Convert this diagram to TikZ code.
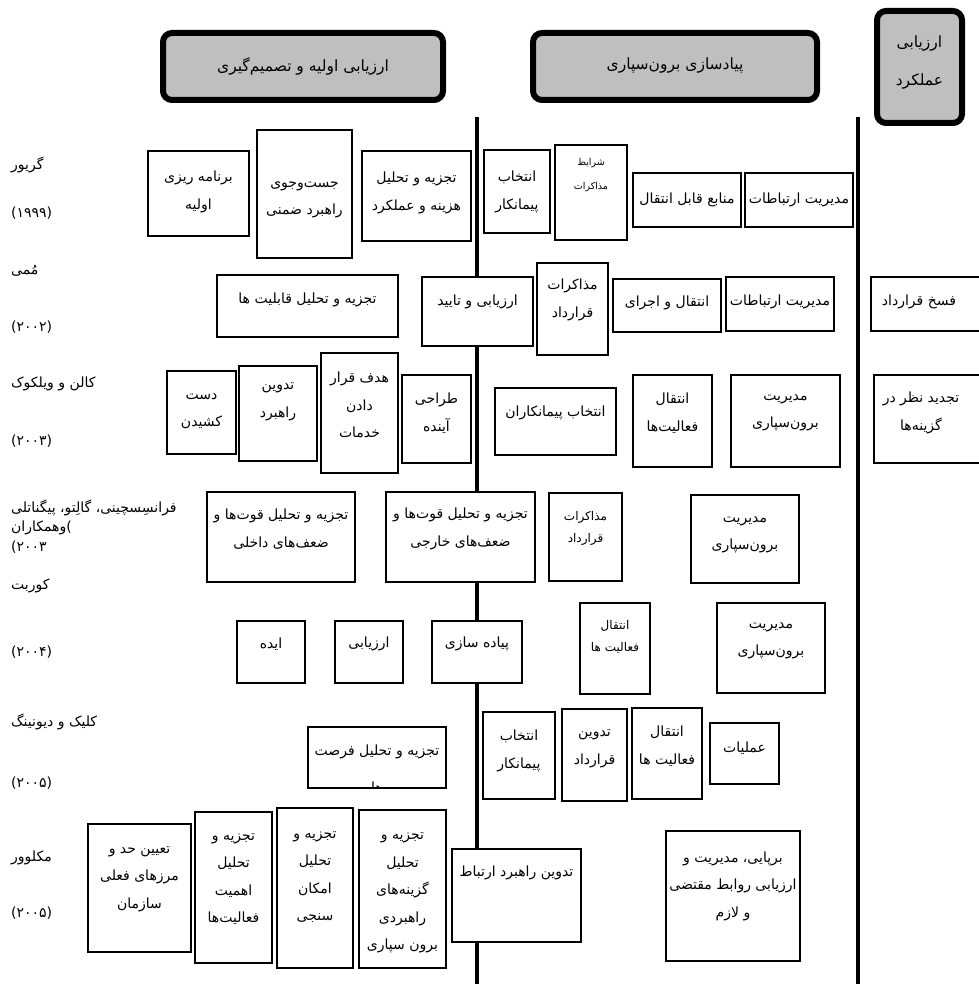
\documentclass[tikz,border=0pt]{standalone}
\usepackage{fontspec}
\usepackage{tikz}
\newfontfamily\arabicfont[Script=Arabic]{DejaVu Sans}
\newfontfamily\latinfont{DejaVu Sans}
\TeXXeTstate=1
\definecolor{headcolor}{RGB}{191,191,191}
\newcommand{\fa}[1]{\beginR#1\endR}
\newcommand{\lp}{{\latinfont(}}
\newcommand{\rp}{{\latinfont)}}

\begin{document}
\begin{tikzpicture}[
    x=1pt, y=-1pt,
    phase/.style={draw, line width=6pt, fill=headcolor, rounded corners=9pt, inner sep=0pt},
    box/.style={draw, line width=2.6pt, fill=white, inner sep=0pt},
    head/.style={inner sep=0pt, align=center, font=\arabicfont\fontsize{15.5}{27.5}\selectfont},
    txt/.style={inner sep=0pt, align=center, font=\arabicfont\fontsize{14}{27.5}\selectfont},
    small/.style={inner sep=0pt, align=center, font=\arabicfont\fontsize{12}{22}\selectfont},
    tiny/.style={inner sep=0pt, align=center, font=\arabicfont\fontsize{9.5}{24}\selectfont},
    who/.style={anchor=west, inner sep=0pt, font=\arabicfont\fontsize{14}{16}\selectfont},
    divider/.style={line width=4.5pt}
]
    \useasboundingbox (0,0) rectangle (978,984);

    % Phases
    \node[phase, minimum width=280pt, minimum height=67pt] (eval) at (303,66.5) {};
    \node[head] (eval-t) at (303,66) {\fa{ارزیابی اولیه و تصمیم‌گیری}};
    \node[phase, minimum width=284pt, minimum height=67pt] (impl) at (675,66.5) {};
    \node[head] (impl-t) at (675,66) {\fa{پیادسازی برون‌سپاری}};
    \node[phase, minimum width=85pt, minimum height=112pt] (perf) at (919.5,67) {};
    \node[head] (perf-t) at (919.5,62.5) {\fa{ارزیابی}\\[11pt]\fa{عملکرد}};

    % Phase borders
    \coordinate (d1-top) at (477,117);
    \coordinate (d1-bot) at (477,990);
    \coordinate (d2-top) at (858,117);
    \coordinate (d2-bot) at (858,990);
    \draw[divider] (d1-top) -- (d1-bot);
    \draw[divider] (d2-top) -- (d2-bot);

    % Authors
    \node[who] (gr-a) at (11,165) {\fa{گریور}};
    \node[who] (gr-y) at (11,213) {\lp۱۹۹۹\rp};
    \node[who] (mo-a) at (11,271) {\fa{مُمی}};
    \node[who] (mo-y) at (11,327) {\lp۲۰۰۲\rp};
    \node[who] (ca-a) at (11,384) {\fa{کالن و ویلکوک}};
    \node[who] (ca-y) at (11,441) {\lp۲۰۰۳\rp};
    \node[who] (fr-a) at (11,508) {\fa{فرانسِسچینی، گالِتو، پیگناتلی}};
    \node[who] (fr-b) at (11,528) {\fa{وهمکاران}\lp};
    \node[who] (fr-y) at (11,547) {\lp۲۰۰۳};
    \node[who] (co-a) at (11,586) {\fa{کوربت}};
    \node[who] (co-y) at (11,652) {\lp۲۰۰۴\rp};
    \node[who] (cl-a) at (11,722) {\fa{کلیک و دیونینگ}};
    \node[who] (cl-y) at (11,783) {\lp۲۰۰۵\rp};
    \node[who] (mc-a) at (11,858) {\fa{مکلوور}};
    \node[who] (mc-y) at (11,913) {\lp۲۰۰۵\rp};

    % Greaver
    \node[box, minimum width=101pt, minimum height=85pt] (gr-plan) at (198.5,193.5) {};
    \node[txt] (gr-plan-t) at (198.5,192) {\fa{برنامه ریزی}\\\fa{اولیه}};
    \node[box, minimum width=95pt, minimum height=128pt] (gr-search) at (304.5,194) {};
    \node[txt] (gr-search-t) at (304.5,200) {\fa{جست‌وجوی}\\\fa{راهبرد ضمنی}};
    \node[box, minimum width=109pt, minimum height=90pt] (gr-cost) at (416.5,196) {};
    \node[txt] (gr-cost-t) at (416.5,193) {\fa{تجزیه و تحلیل}\\\fa{هزینه و عملکرد}};
    \node[box, minimum width=66pt, minimum height=83pt] (gr-select) at (517,191.5) {};
    \node[txt] (gr-select-t) at (517,192) {\fa{انتخاب}\\\fa{پیمانکار}};
    \node[box, minimum width=72pt, minimum height=95pt] (gr-terms) at (591,192.5) {};
    \node[tiny] (gr-terms-t) at (591,175) {\fa{شرایط}\\\fa{مذاکرات}};
    \node[box, minimum width=108pt, minimum height=54pt] (gr-res) at (687,200) {};
    \node[txt] (gr-res-t) at (687,200) {\fa{منابع قابل انتقال}};
    \node[box, minimum width=108pt, minimum height=54pt] (gr-rel) at (799,200) {};
    \node[txt] (gr-rel-t) at (799,200) {\fa{مدیریت ارتباطات}};

    % Mommy
    \node[box, minimum width=181pt, minimum height=62pt] (mo-cap) at (307.5,306) {};
    \node[txt] (mo-cap-t) at (307.5,300) {\fa{تجزیه و تحلیل قابلیت ها}};
    \node[box, minimum width=111pt, minimum height=69pt] (mo-eval) at (477.5,311.5) {};
    \node[txt] (mo-eval-t) at (477.5,302) {\fa{ارزیابی و تایید}};
    \node[box, minimum width=71pt, minimum height=92pt] (mo-neg) at (572.5,309) {};
    \node[txt] (mo-neg-t) at (572.5,300) {\fa{مذاکرات}\\\fa{قرارداد}};
    \node[box, minimum width=108pt, minimum height=53pt] (mo-trans) at (667,305.5) {};
    \node[txt] (mo-trans-t) at (667,303) {\fa{انتقال و اجرای}};
    \node[box, minimum width=108pt, minimum height=54pt] (mo-rel) at (780,304) {};
    \node[txt] (mo-rel-t) at (780,302) {\fa{مدیریت ارتباطات}};
    \node[box, minimum width=119pt, minimum height=54pt] (mo-end) at (930.5,304) {};
    \node[txt] (mo-end-t) at (919,302) {\fa{فسخ قرارداد}};

    % Cullen and Willcocks
    \node[box, minimum width=69pt, minimum height=83pt] (ca-quit) at (201.5,412.5) {};
    \node[txt] (ca-quit-t) at (201.5,411) {\fa{دست}\\\fa{کشیدن}};
    \node[box, minimum width=78pt, minimum height=95pt] (ca-strat) at (278,413.5) {};
    \node[txt] (ca-strat-t) at (278,402) {\fa{تدوین}\\\fa{راهبرد}};
    \node[box, minimum width=77pt, minimum height=120pt] (ca-target) at (359.5,413) {};
    \node[txt] (ca-target-t) at (359.5,405) {\fa{هدف قرار}\\\fa{دادن}\\\fa{خدمات}};
    \node[box, minimum width=69pt, minimum height=88pt] (ca-design) at (436.5,419) {};
    \node[txt] (ca-design-t) at (436.5,413) {\fa{طراحی}\\\fa{آینده}};
    \node[box, minimum width=121pt, minimum height=67pt] (ca-select) at (555.5,421.5) {};
    \node[txt] (ca-select-t) at (555.5,413) {\fa{انتخاب پیمانکاران}};
    \node[box, minimum width=79pt, minimum height=92pt] (ca-trans) at (672.5,421) {};
    \node[txt] (ca-trans-t) at (672.5,413) {\fa{انتقال}\\\fa{فعالیت‌ها}};
    \node[box, minimum width=109pt, minimum height=92pt] (ca-mgmt) at (785.5,421) {};
    \node[txt] (ca-mgmt-t) at (785.5,413) {\fa{مدیریت}\\\fa{برون‌سپاری}};
    \node[box, minimum width=116pt, minimum height=88pt] (ca-review) at (932,419) {};
    \node[txt] (ca-review-t) at (921,413) {\fa{تجدید نظر در}\\\fa{گزینه‌ها}};

    % Franceschini et al.
    \node[box, minimum width=148pt, minimum height=90pt] (fr-int) at (281,537) {};
    \node[txt] (fr-int-t) at (281,529) {\fa{تجزیه و تحلیل قوت‌ها و}\\\fa{ضعف‌های داخلی}};
    \node[box, minimum width=149pt, minimum height=90pt] (fr-ext) at (460.5,537) {};
    \node[txt] (fr-ext-t) at (460.5,529) {\fa{تجزیه و تحلیل قوت‌ها و}\\\fa{ضعف‌های خارجی}};
    \node[box, minimum width=73pt, minimum height=88pt] (fr-neg) at (585.5,537) {};
    \node[small] (fr-neg-t) at (585.5,528) {\fa{مذاکرات}\\\fa{قرارداد}};
    \node[box, minimum width=108pt, minimum height=88pt] (fr-mgmt) at (745,539) {};
    \node[txt] (fr-mgmt-t) at (745,535) {\fa{مدیریت}\\\fa{برون‌سپاری}};

    % Corbett
    \node[box, minimum width=68pt, minimum height=62pt] (co-idea) at (271,652) {};
    \node[txt] (co-idea-t) at (271,644) {\fa{ایده}};
    \node[box, minimum width=68pt, minimum height=62pt] (co-eval) at (369,652) {};
    \node[txt] (co-eval-t) at (369,644) {\fa{ارزیابی}};
    \node[box, minimum width=90pt, minimum height=62pt] (co-impl) at (477,652) {};
    \node[txt] (co-impl-t) at (477,644) {\fa{پیاده سازی}};
    \node[box, minimum width=70pt, minimum height=91pt] (co-trans) at (615,648.5) {};
    \node[small] (co-trans-t) at (615,637) {\fa{انتقال}\\\fa{فعالیت ها}};
    \node[box, minimum width=108pt, minimum height=90pt] (co-mgmt) at (771,648) {};
    \node[txt] (co-mgmt-t) at (771,641) {\fa{مدیریت}\\\fa{برون‌سپاری}};

    % Click and Duening
    \node[box, minimum width=138pt, minimum height=61pt] (cl-opp) at (377,757.5) {};
    \node[txt] (cl-opp-t) at (377,752) {\fa{تجزیه و تحلیل فرصت}};
    \begin{scope}
        \clip ([shift={(1.3pt,1.3pt)}]cl-opp.south west) rectangle ([shift={(-1.3pt,-1.3pt)}]cl-opp.north east);
        \node[txt] (cl-opp-u) at (377,787) {\fa{ها}};
    \end{scope}
    \node[box, minimum width=72pt, minimum height=87pt] (cl-select) at (519,755.5) {};
    \node[txt] (cl-select-t) at (519,751) {\fa{انتخاب}\\\fa{پیمانکار}};
    \node[box, minimum width=65pt, minimum height=92pt] (cl-contract) at (594.5,755) {};
    \node[txt] (cl-contract-t) at (594.5,749) {\fa{تدوین}\\\fa{قرارداد}};
    \node[box, minimum width=70pt, minimum height=91pt] (cl-trans) at (667,753.5) {};
    \node[txt] (cl-trans-t) at (667,746) {\fa{انتقال}\\\fa{فعالیت ها}};
    \node[box, minimum width=69pt, minimum height=61pt] (cl-ops) at (744.5,753.5) {};
    \node[txt] (cl-ops-t) at (744.5,748) {\fa{عملیات}};

    % McIvor
    \node[box, minimum width=103pt, minimum height=128pt] (mc-bound) at (139.5,888) {};
    \node[txt] (mc-bound-t) at (139.5,879) {\fa{تعیین حد و}\\\fa{مرزهای فعلی}\\\fa{سازمان}};
    \node[box, minimum width=77pt, minimum height=151pt] (mc-imp) at (233.5,887.5) {};
    \node[txt] (mc-imp-t) at (233.5,879) {\fa{تجزیه و}\\\fa{تحلیل}\\\fa{اهمیت}\\\fa{فعالیت‌ها}};
    \node[box, minimum width=76pt, minimum height=160pt] (mc-feas) at (315,888) {};
    \node[txt] (mc-feas-t) at (315,877) {\fa{تجزیه و}\\\fa{تحلیل}\\\fa{امکان}\\\fa{سنجی}};
    \node[box, minimum width=87pt, minimum height=158pt] (mc-opt) at (402.5,889) {};
    \node[txt] (mc-opt-t) at (402.5,893) {\fa{تجزیه و}\\\fa{تحلیل}\\\fa{گزینه‌های}\\\fa{راهبردی}\\\fa{برون سپاری}};
    \node[box, minimum width=129pt, minimum height=93pt] (mc-comm) at (516.5,895.5) {};
    \node[txt] (mc-comm-t) at (516.5,873) {\fa{تدوین راهبرد ارتباط}};
    \node[box, minimum width=134pt, minimum height=130pt] (mc-setup) at (733,896) {};
    \node[txt] (mc-setup-t) at (733,886) {\fa{برپایی، مدیریت و}\\\fa{ارزیابی روابط مقتضی}\\\fa{و لازم}};
\end{tikzpicture}
\end{document}
